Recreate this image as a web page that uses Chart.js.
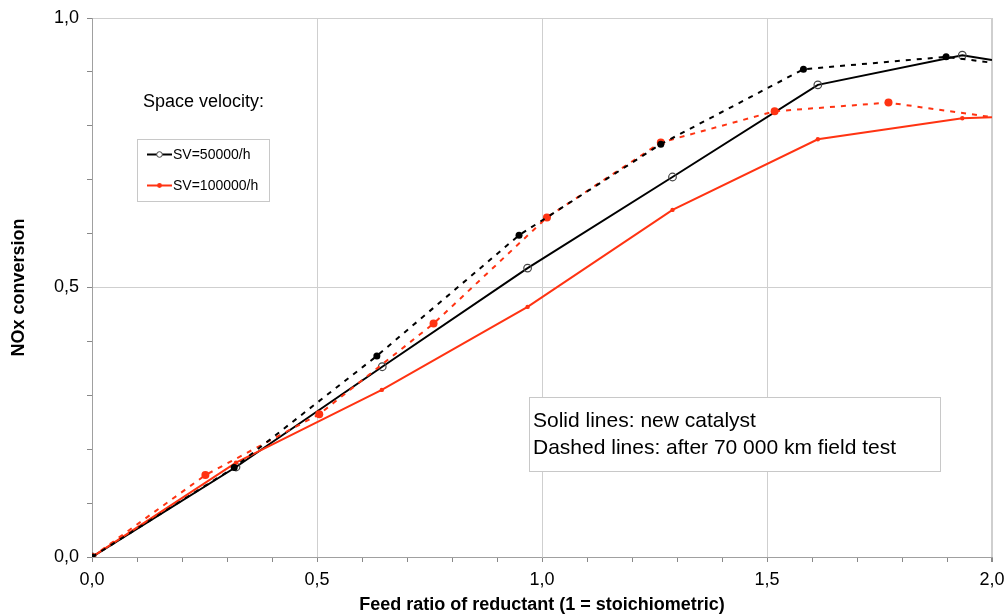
<!DOCTYPE html>
<html>
<head>
<meta charset="utf-8">
<script src="https://cdn.jsdelivr.net/npm/chart.js@4/dist/chart.umd.min.js"></script>
<style>
  html, body { margin: 0; padding: 0; background: #fff; }
  #wrap { width: 1008px; height: 616px; position: relative; }
</style>
</head>
<body>
<div id="wrap"><canvas id="noxChart"></canvas></div>
<script>
// Feed ratio (x) and NOx conversion (y)
const sv50NewX   = [0, 0.32, 0.645, 0.968, 1.29, 1.613, 1.934, 2.0];
const sv50NewY   = [0, 0.167, 0.353, 0.536, 0.705, 0.876, 0.931, 0.922];
const sv50AgedX  = [0, 0.316, 0.633, 0.949, 1.264, 1.581, 1.898, 2.0];
const sv50AgedY  = [0, 0.166, 0.373, 0.597, 0.766, 0.905, 0.928, 0.917];
const sv100NewX  = [0, 0.32, 0.644, 0.968, 1.29, 1.613, 1.934, 2.0];
const sv100NewY  = [0, 0.175, 0.31, 0.464, 0.644, 0.775, 0.814, 0.816];
const sv100AgedX = [0, 0.252, 0.505, 0.759, 1.011, 1.264, 1.517, 1.77, 2.0];
const sv100AgedY = [0, 0.152, 0.265, 0.433, 0.63, 0.769, 0.827, 0.843, 0.816];

const legendTitle = "Space velocity:";
const legendLabels = ["SV=50000/h", "SV=100000/h"];
const noteLines = ["Solid lines: new catalyst", "Dashed lines: after 70 000 km field test"];

const RED = '#ff3312';
const FONT = "'Liberation Sans', Arial, sans-serif";

function toPoints(xs, ys) {
    return xs.map(function (x, i) { return { x: x, y: ys[i] }; });
}

// no marker on the clipped end point at the right edge
function radiusAt(r) {
    return function (ctx) { return ctx.raw && ctx.raw.x >= 2 ? 0 : r; };
}

function isMajor(v) {
    return Math.abs(v * 2 - Math.round(v * 2)) < 1e-6;
}

function fmt(v) {
    return isMajor(v) ? v.toFixed(1).replace('.', ',') : '';
}

// legend box, "Space velocity:" caption and the note box
const boxesPlugin = {
    id: 'boxes',
    afterDraw(chart) {
        const c = chart.ctx;
        c.save();
        c.textBaseline = 'middle';
        c.fillStyle = '#000';
        c.font = '18px ' + FONT;
        c.fillText(legendTitle, 143, 102);

        // legend
        c.fillStyle = '#fff';
        c.fillRect(137, 139, 132, 62);
        c.strokeStyle = '#c8c8c8';
        c.lineWidth = 1;
        c.strokeRect(137.5, 139.5, 132, 62);

        const rows = [
            { y: 154.5, color: '#000', open: true },
            { y: 185.5, color: RED, open: false }
        ];
        rows.forEach(function (r, i) {
            c.strokeStyle = r.color;
            c.lineWidth = 2;
            c.beginPath();
            c.moveTo(147, r.y);
            c.lineTo(172, r.y);
            c.stroke();
            c.beginPath();
            if (r.open) {
                c.arc(159.5, r.y, 2.8, 0, Math.PI * 2);
                c.fillStyle = '#fff';
                c.fill();
                c.strokeStyle = '#444';
                c.lineWidth = 1;
                c.stroke();
            } else {
                c.arc(159.5, r.y, 2.4, 0, Math.PI * 2);
                c.fillStyle = RED;
                c.fill();
            }
            c.fillStyle = '#000';
            c.font = '14px ' + FONT;
            c.fillText(legendLabels[i], 173, r.y + 1);
        });

        // note box
        c.fillStyle = '#fff';
        c.fillRect(529, 397, 411, 74);
        c.strokeStyle = '#c8c8c8';
        c.lineWidth = 1;
        c.strokeRect(529.5, 397.5, 411, 74);
        c.fillStyle = '#000';
        c.font = '21px ' + FONT;
        c.fillText(noteLines[0], 533, 421);
        c.fillText(noteLines[1], 533, 448);
        c.restore();
    }
};

const chartData = {
    datasets: [
        {
            label: legendLabels[0] + ' aged',
            data: toPoints(sv50AgedX, sv50AgedY),
            borderColor: '#000',
            backgroundColor: '#000',
            borderWidth: 2,
            borderDash: [5, 6],
            pointRadius: radiusAt(3.5),
            pointBorderWidth: 0,
            pointBackgroundColor: '#000'
        },
        {
            label: legendLabels[1] + ' aged',
            data: toPoints(sv100AgedX, sv100AgedY),
            borderColor: RED,
            backgroundColor: RED,
            borderWidth: 2,
            borderDash: [5, 6],
            pointRadius: radiusAt(4),
            pointBorderWidth: 0,
            pointBackgroundColor: RED
        },
        {
            label: legendLabels[1],
            data: toPoints(sv100NewX, sv100NewY),
            borderColor: RED,
            backgroundColor: RED,
            borderWidth: 2,
            pointRadius: radiusAt(2.2),
            pointBorderWidth: 0,
            pointBackgroundColor: RED
        },
        {
            label: legendLabels[0],
            data: toPoints(sv50NewX, sv50NewY),
            borderColor: '#000',
            backgroundColor: '#fff',
            borderWidth: 2,
            pointRadius: radiusAt(3.8),
            pointBorderWidth: 1.2,
            pointBorderColor: '#444',
            pointBackgroundColor: 'rgba(255,255,255,0)'
        }
    ]
};

const chartOptions = {
    responsive: true,
    maintainAspectRatio: false,
    animation: false,
    layout: { padding: { top: 18, right: 16, left: 0, bottom: 0 } },
    plugins: {
        legend: { display: false },
        tooltip: { enabled: false }
    },
    scales: {
        x: {
            type: 'linear',
            min: 0,
            max: 2,
            afterFit: function (s) { s.height = 59; s.paddingLeft = 0; s.paddingRight = 0; },
            border: { color: '#a0a0a0', width: 1 },
            grid: {
                color: function (ctx) { return isMajor(ctx.tick.value) && ctx.tick.value > 0 ? '#cfcfcf' : 'rgba(0,0,0,0)'; },
                tickColor: '#888',
                tickLength: 5,
                lineWidth: function (ctx) { return ctx.tick.value >= 2 ? 2 : 1; }
            },
            ticks: {
                stepSize: 0.1,
                autoSkip: false,
                maxRotation: 0,
                padding: 7,
                color: '#000',
                font: { family: FONT, size: 18 },
                callback: fmt
            },
            title: {
                display: true,
                text: 'Feed ratio of reductant (1 = stoichiometric)',
                color: '#000',
                font: { family: FONT, size: 18, weight: 'bold' },
                padding: { top: 0, bottom: 0 }
            }
        },
        y: {
            type: 'linear',
            min: 0,
            max: 1,
            afterFit: function (s) { s.width = 92; s.paddingTop = 0; s.paddingBottom = 0; },
            border: { color: '#a0a0a0', width: 1 },
            grid: {
                color: function (ctx) { return isMajor(ctx.tick.value) && ctx.tick.value > 0 ? '#cfcfcf' : 'rgba(0,0,0,0)'; },
                tickColor: '#888',
                tickLength: 5
            },
            ticks: {
                stepSize: 0.1,
                autoSkip: false,
                padding: 8,
                color: '#000',
                font: { family: FONT, size: 18 },
                callback: fmt
            },
            title: {
                display: true,
                text: 'NOx conversion',
                color: '#000',
                font: { family: FONT, size: 18, weight: 'bold' },
                padding: { top: 8, bottom: 0 }
            }
        }
    }
};

const ctx = document.getElementById('noxChart');
new Chart(ctx, {
    type: 'line',
    data: chartData,
    options: chartOptions,
    plugins: [boxesPlugin]
});
</script>
</body>
</html>
